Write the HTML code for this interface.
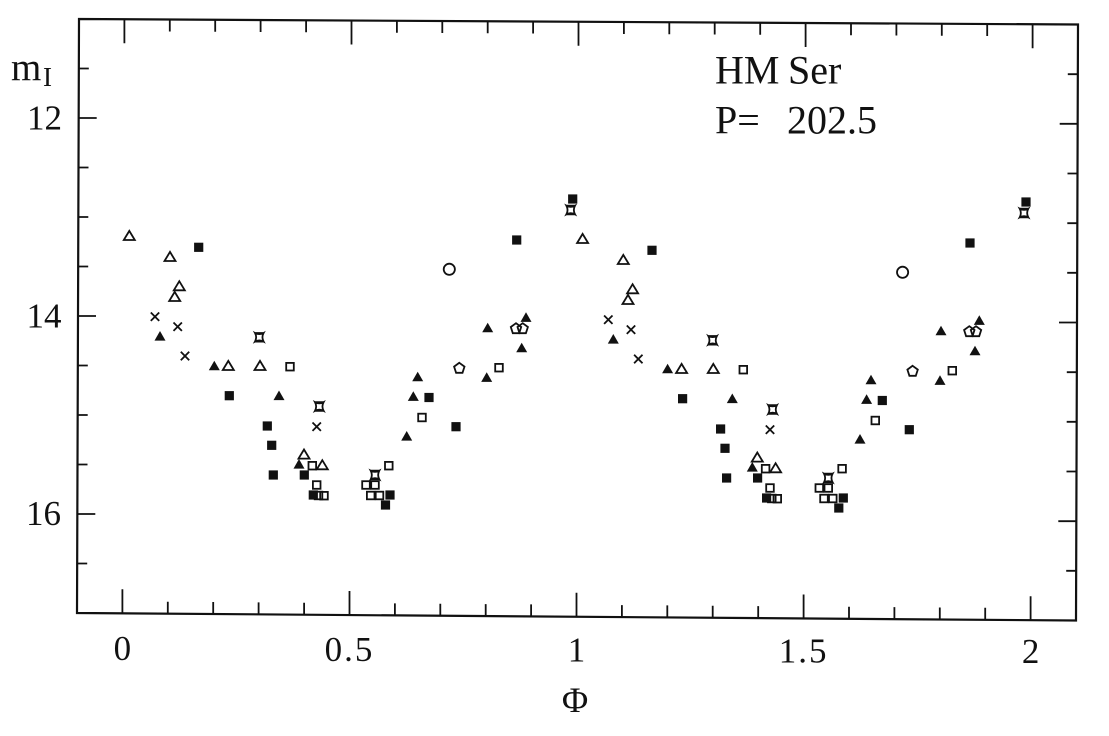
<!DOCTYPE html>
<html><head><meta charset="utf-8">
<style>
html,body{margin:0;padding:0;background:#fff;}
svg{display:block;}
.o{fill:none;stroke:#111;stroke-width:1.8;stroke-linejoin:miter;}
.f{fill:#111;stroke:none;}
text{font-family:"Liberation Serif",serif;fill:#111;}
</style></head>
<body>
<svg width="1109" height="736" viewBox="0 0 1109 736" xmlns="http://www.w3.org/2000/svg">
<rect width="1109" height="736" fill="#fff"/>
<!-- frame -->
<path d="M79,19 L1078,24.5 L1076,620.5 L77,613 Z" fill="none" stroke="#111" stroke-width="2.2"/>
<!-- ticks -->
<path fill="none" stroke="#111" stroke-width="1.8" d="
M122.4,613.3v-24 M167.8,613.7v-12 M213.2,614v-12 M258.6,614.4v-12 M304.1,614.7v-12 M349.5,615v-24 M394.9,615.4v-12 M440.3,615.7v-12 M485.7,616.1v-12 M531.1,616.4v-12 M576.5,616.8v-24 M621.9,617.1v-12 M667.3,617.4v-12 M712.7,617.8v-12 M758.2,618.1v-12 M803.6,618.5v-24 M849,618.8v-12 M894.4,619.1v-12 M939.8,619.5v-12 M985.2,619.8v-12 M1030.6,620.2v-24
M124.4,19.3v24 M169.8,19.5v12 M215.2,19.8v12 M260.6,20v12 M306.1,20.3v12 M351.5,20.5v24 M396.9,20.8v12 M442.3,21v12 M487.7,21.3v12 M533.1,21.5v12 M578.5,21.8v24 M623.9,22v12 M669.3,22.3v12 M714.7,22.5v12 M760.2,22.8v12 M805.6,23v24 M851,23.3v12 M896.4,23.5v12 M941.8,23.8v12 M987.2,24v12 M1032.6,24.3v24
M78.8,68.5h10 M78.7,118h18 M78.5,167.5h10 M78.3,217h10 M78.2,266.5h10 M78,316h18 M77.8,365.5h10 M77.7,415h10 M77.5,464.5h10 M77.3,514h18 M77.2,563.5h10
M1077.8,74.2h-10 M1077.7,123.8h-18 M1077.5,173.5h-10 M1077.3,223.2h-10 M1077.2,272.8h-10 M1077,322.5h-18 M1076.8,372.2h-10 M1076.7,421.8h-10 M1076.5,471.5h-10 M1076.3,521.2h-18 M1076.2,570.8h-10"/>

<!-- y labels -->
<text x="62" y="129.5" font-size="35" text-anchor="end">12</text>
<text x="61.5" y="327.5" font-size="35" text-anchor="end">14</text>
<text x="61" y="525" font-size="35" text-anchor="end">16</text>
<text x="11" y="80" font-size="39">m</text>
<text x="43" y="86" font-size="27">I</text>

<!-- x labels -->
<text x="122.4" y="660" font-size="35" text-anchor="middle">0</text>
<text x="349.5" y="661" font-size="35" text-anchor="middle" letter-spacing="2">0.5</text>
<text x="576.5" y="661.5" font-size="35" text-anchor="middle">1</text>
<text x="803.6" y="662.5" font-size="35" text-anchor="middle" letter-spacing="2">1.5</text>
<text x="1030.6" y="663" font-size="35" text-anchor="middle">2</text>
<text x="575" y="712" font-size="36" text-anchor="middle">Φ</text>

<!-- annotation -->
<text x="715" y="83.5" font-size="40">HM</text>
<text x="788" y="83.5" font-size="40">Ser</text>
<text x="715" y="133.3" font-size="40">P=</text>
<text x="787" y="133.3" font-size="40">202.5</text>

<!-- data: first copy -->
<g>
<!-- open triangles -->
<path class="o" transform="translate(129.3,235.7)" d="M-5.5,4.3H5.5L0,-4.8Z"/>
<path class="o" transform="translate(170,256.7)" d="M-5.5,4.3H5.5L0,-4.8Z"/>
<path class="o" transform="translate(179.3,286)" d="M-5.5,4.3H5.5L0,-4.8Z"/>
<path class="o" transform="translate(174.7,296.7)" d="M-5.5,4.3H5.5L0,-4.8Z"/>
<path class="o" transform="translate(228.3,365.7)" d="M-5.5,4.3H5.5L0,-4.8Z"/>
<path class="o" transform="translate(260,365.7)" d="M-5.5,4.3H5.5L0,-4.8Z"/>
<path class="o" transform="translate(304,454.3)" d="M-5.5,4.3H5.5L0,-4.8Z"/>
<path class="o" transform="translate(322.3,465)" d="M-5.5,4.3H5.5L0,-4.8Z"/>
<!-- open squares -->
<rect class="o" transform="translate(290,366.7)" x="-3.8" y="-3.8" width="7.6" height="7.6"/>
<rect class="o" transform="translate(312.3,465.7)" x="-3.8" y="-3.8" width="7.6" height="7.6"/>
<rect class="o" transform="translate(316.7,485)" x="-3.8" y="-3.8" width="7.6" height="7.6"/>
<rect class="o" transform="translate(318.5,495.5)" x="-3.8" y="-3.8" width="7.6" height="7.6"/>
<rect class="o" transform="translate(324,495.7)" x="-3.8" y="-3.8" width="7.6" height="7.6"/>
<rect class="o" transform="translate(366,485)" x="-3.8" y="-3.8" width="7.6" height="7.6"/>
<rect class="o" transform="translate(375,485)" x="-3.8" y="-3.8" width="7.6" height="7.6"/>
<rect class="o" transform="translate(370.7,495.5)" x="-3.8" y="-3.8" width="7.6" height="7.6"/>
<rect class="o" transform="translate(379.5,495.5)" x="-3.8" y="-3.8" width="7.6" height="7.6"/>
<rect class="o" transform="translate(388.8,465.7)" x="-3.8" y="-3.8" width="7.6" height="7.6"/>
<rect class="o" transform="translate(422,417.5)" x="-3.8" y="-3.8" width="7.6" height="7.6"/>
<rect class="o" transform="translate(499,367.7)" x="-3.8" y="-3.8" width="7.6" height="7.6"/>
<!-- filled triangles -->
<path class="f" transform="translate(160,336)" d="M-5.5,4.6H5.5L0,-5Z"/>
<path class="f" transform="translate(214.3,365.7)" d="M-5.5,4.6H5.5L0,-5Z"/>
<path class="f" transform="translate(279,395.5)" d="M-5.5,4.6H5.5L0,-5Z"/>
<path class="f" transform="translate(299,464)" d="M-5.5,4.6H5.5L0,-5Z"/>
<path class="f" transform="translate(406.7,436)" d="M-5.5,4.6H5.5L0,-5Z"/>
<path class="f" transform="translate(413.3,396.3)" d="M-5.5,4.6H5.5L0,-5Z"/>
<path class="f" transform="translate(417.7,376.7)" d="M-5.5,4.6H5.5L0,-5Z"/>
<path class="f" transform="translate(486.7,377.3)" d="M-5.5,4.6H5.5L0,-5Z"/>
<path class="f" transform="translate(487.7,327.7)" d="M-5.5,4.6H5.5L0,-5Z"/>
<path class="f" transform="translate(526,317.3)" d="M-5.5,4.6H5.5L0,-5Z"/>
<path class="f" transform="translate(521.7,347.7)" d="M-5.5,4.6H5.5L0,-5Z"/>
<!-- filled squares -->
<rect class="f" transform="translate(198.7,247.3)" x="-4.6" y="-4.6" width="9.2" height="9.2"/>
<rect class="f" transform="translate(229.3,395.7)" x="-4.6" y="-4.6" width="9.2" height="9.2"/>
<rect class="f" transform="translate(267.3,426)" x="-4.6" y="-4.6" width="9.2" height="9.2"/>
<rect class="f" transform="translate(271.7,445.3)" x="-4.6" y="-4.6" width="9.2" height="9.2"/>
<rect class="f" transform="translate(273.3,475)" x="-4.6" y="-4.6" width="9.2" height="9.2"/>
<rect class="f" transform="translate(304.3,475)" x="-4.6" y="-4.6" width="9.2" height="9.2"/>
<rect class="f" transform="translate(313.3,495)" x="-4.6" y="-4.6" width="9.2" height="9.2"/>
<rect class="f" transform="translate(390,495)" x="-4.6" y="-4.6" width="9.2" height="9.2"/>
<rect class="f" transform="translate(385.5,505)" x="-4.6" y="-4.6" width="9.2" height="9.2"/>
<rect class="f" transform="translate(429,397.5)" x="-4.6" y="-4.6" width="9.2" height="9.2"/>
<rect class="f" transform="translate(456,426.7)" x="-4.6" y="-4.6" width="9.2" height="9.2"/>
<rect class="f" transform="translate(516.7,240)" x="-4.6" y="-4.6" width="9.2" height="9.2"/>
<rect class="f" transform="translate(572.7,199)" x="-4.6" y="-4.6" width="9.2" height="9.2"/>
<!-- crosses -->
<path class="o" transform="translate(155,316.7)" d="M-4.2,-4.2L4.2,4.2M-4.2,4.2L4.2,-4.2"/>
<path class="o" transform="translate(177.7,326.7)" d="M-4.2,-4.2L4.2,4.2M-4.2,4.2L4.2,-4.2"/>
<path class="o" transform="translate(185,356)" d="M-4.2,-4.2L4.2,4.2M-4.2,4.2L4.2,-4.2"/>
<path class="o" transform="translate(316.7,426.7)" d="M-4.2,-4.2L4.2,4.2M-4.2,4.2L4.2,-4.2"/>
<!-- stars -->
<path class="o" transform="translate(259.3,337.3)" d="M-4.3,-4.3Q0,-2 4.3,-4.3Q2,0 4.3,4.3Q0,2 -4.3,4.3Q-2,0 -4.3,-4.3ZM-4.3,-4.3H4.3M-4.3,4.3H4.3"/>
<path class="o" transform="translate(319.3,406.5)" d="M-4.3,-4.3Q0,-2 4.3,-4.3Q2,0 4.3,4.3Q0,2 -4.3,4.3Q-2,0 -4.3,-4.3ZM-4.3,-4.3H4.3M-4.3,4.3H4.3"/>
<path class="o" transform="translate(375,475)" d="M-4.3,-4.3Q0,-2 4.3,-4.3Q2,0 4.3,4.3Q0,2 -4.3,4.3Q-2,0 -4.3,-4.3ZM-4.3,-4.3H4.3M-4.3,4.3H4.3"/>
<path class="o" transform="translate(570.7,210)" d="M-4.3,-4.3Q0,-2 4.3,-4.3Q2,0 4.3,4.3Q0,2 -4.3,4.3Q-2,0 -4.3,-4.3ZM-4.3,-4.3H4.3M-4.3,4.3H4.3"/>
<!-- circle -->
<circle class="o" cx="449.3" cy="269.3" r="5.6"/>
<!-- pentagons -->
<path class="o" transform="translate(459.3,368.3)" d="M0,-5.5L5.2,-1.7L3.2,4.5H-3.2L-5.2,-1.7Z"/>
<path class="o" transform="translate(516,328.7)" d="M0,-5.5L5.2,-1.7L3.2,4.5H-3.2L-5.2,-1.7Z"/>
<path class="o" transform="translate(522.7,328.7)" d="M0,-5.5L5.2,-1.7L3.2,4.5H-3.2L-5.2,-1.7Z"/>
</g>

<!-- data: second copy (phase + 1) -->
<g transform="translate(453.3,3)">
<path class="o" transform="translate(129.3,235.7)" d="M-5.5,4.3H5.5L0,-4.8Z"/>
<path class="o" transform="translate(170,256.7)" d="M-5.5,4.3H5.5L0,-4.8Z"/>
<path class="o" transform="translate(179.3,286)" d="M-5.5,4.3H5.5L0,-4.8Z"/>
<path class="o" transform="translate(174.7,296.7)" d="M-5.5,4.3H5.5L0,-4.8Z"/>
<path class="o" transform="translate(228.3,365.7)" d="M-5.5,4.3H5.5L0,-4.8Z"/>
<path class="o" transform="translate(260,365.7)" d="M-5.5,4.3H5.5L0,-4.8Z"/>
<path class="o" transform="translate(304,454.3)" d="M-5.5,4.3H5.5L0,-4.8Z"/>
<path class="o" transform="translate(322.3,465)" d="M-5.5,4.3H5.5L0,-4.8Z"/>
<rect class="o" transform="translate(290,366.7)" x="-3.8" y="-3.8" width="7.6" height="7.6"/>
<rect class="o" transform="translate(312.3,465.7)" x="-3.8" y="-3.8" width="7.6" height="7.6"/>
<rect class="o" transform="translate(316.7,485)" x="-3.8" y="-3.8" width="7.6" height="7.6"/>
<rect class="o" transform="translate(318.5,495.5)" x="-3.8" y="-3.8" width="7.6" height="7.6"/>
<rect class="o" transform="translate(324,495.7)" x="-3.8" y="-3.8" width="7.6" height="7.6"/>
<rect class="o" transform="translate(366,485)" x="-3.8" y="-3.8" width="7.6" height="7.6"/>
<rect class="o" transform="translate(375,485)" x="-3.8" y="-3.8" width="7.6" height="7.6"/>
<rect class="o" transform="translate(370.7,495.5)" x="-3.8" y="-3.8" width="7.6" height="7.6"/>
<rect class="o" transform="translate(379.5,495.5)" x="-3.8" y="-3.8" width="7.6" height="7.6"/>
<rect class="o" transform="translate(388.8,465.7)" x="-3.8" y="-3.8" width="7.6" height="7.6"/>
<rect class="o" transform="translate(422,417.5)" x="-3.8" y="-3.8" width="7.6" height="7.6"/>
<rect class="o" transform="translate(499,367.7)" x="-3.8" y="-3.8" width="7.6" height="7.6"/>
<path class="f" transform="translate(160,336)" d="M-5.5,4.6H5.5L0,-5Z"/>
<path class="f" transform="translate(214.3,365.7)" d="M-5.5,4.6H5.5L0,-5Z"/>
<path class="f" transform="translate(279,395.5)" d="M-5.5,4.6H5.5L0,-5Z"/>
<path class="f" transform="translate(299,464)" d="M-5.5,4.6H5.5L0,-5Z"/>
<path class="f" transform="translate(406.7,436)" d="M-5.5,4.6H5.5L0,-5Z"/>
<path class="f" transform="translate(413.3,396.3)" d="M-5.5,4.6H5.5L0,-5Z"/>
<path class="f" transform="translate(417.7,376.7)" d="M-5.5,4.6H5.5L0,-5Z"/>
<path class="f" transform="translate(486.7,377.3)" d="M-5.5,4.6H5.5L0,-5Z"/>
<path class="f" transform="translate(487.7,327.7)" d="M-5.5,4.6H5.5L0,-5Z"/>
<path class="f" transform="translate(526,317.3)" d="M-5.5,4.6H5.5L0,-5Z"/>
<path class="f" transform="translate(521.7,347.7)" d="M-5.5,4.6H5.5L0,-5Z"/>
<rect class="f" transform="translate(198.7,247.3)" x="-4.6" y="-4.6" width="9.2" height="9.2"/>
<rect class="f" transform="translate(229.3,395.7)" x="-4.6" y="-4.6" width="9.2" height="9.2"/>
<rect class="f" transform="translate(267.3,426)" x="-4.6" y="-4.6" width="9.2" height="9.2"/>
<rect class="f" transform="translate(271.7,445.3)" x="-4.6" y="-4.6" width="9.2" height="9.2"/>
<rect class="f" transform="translate(273.3,475)" x="-4.6" y="-4.6" width="9.2" height="9.2"/>
<rect class="f" transform="translate(304.3,475)" x="-4.6" y="-4.6" width="9.2" height="9.2"/>
<rect class="f" transform="translate(313.3,495)" x="-4.6" y="-4.6" width="9.2" height="9.2"/>
<rect class="f" transform="translate(390,495)" x="-4.6" y="-4.6" width="9.2" height="9.2"/>
<rect class="f" transform="translate(385.5,505)" x="-4.6" y="-4.6" width="9.2" height="9.2"/>
<rect class="f" transform="translate(429,397.5)" x="-4.6" y="-4.6" width="9.2" height="9.2"/>
<rect class="f" transform="translate(456,426.7)" x="-4.6" y="-4.6" width="9.2" height="9.2"/>
<rect class="f" transform="translate(516.7,240)" x="-4.6" y="-4.6" width="9.2" height="9.2"/>
<rect class="f" transform="translate(572.7,199)" x="-4.6" y="-4.6" width="9.2" height="9.2"/>
<path class="o" transform="translate(155,316.7)" d="M-4.2,-4.2L4.2,4.2M-4.2,4.2L4.2,-4.2"/>
<path class="o" transform="translate(177.7,326.7)" d="M-4.2,-4.2L4.2,4.2M-4.2,4.2L4.2,-4.2"/>
<path class="o" transform="translate(185,356)" d="M-4.2,-4.2L4.2,4.2M-4.2,4.2L4.2,-4.2"/>
<path class="o" transform="translate(316.7,426.7)" d="M-4.2,-4.2L4.2,4.2M-4.2,4.2L4.2,-4.2"/>
<path class="o" transform="translate(259.3,337.3)" d="M-4.3,-4.3Q0,-2 4.3,-4.3Q2,0 4.3,4.3Q0,2 -4.3,4.3Q-2,0 -4.3,-4.3ZM-4.3,-4.3H4.3M-4.3,4.3H4.3"/>
<path class="o" transform="translate(319.3,406.5)" d="M-4.3,-4.3Q0,-2 4.3,-4.3Q2,0 4.3,4.3Q0,2 -4.3,4.3Q-2,0 -4.3,-4.3ZM-4.3,-4.3H4.3M-4.3,4.3H4.3"/>
<path class="o" transform="translate(375,475)" d="M-4.3,-4.3Q0,-2 4.3,-4.3Q2,0 4.3,4.3Q0,2 -4.3,4.3Q-2,0 -4.3,-4.3ZM-4.3,-4.3H4.3M-4.3,4.3H4.3"/>
<path class="o" transform="translate(570.7,210)" d="M-4.3,-4.3Q0,-2 4.3,-4.3Q2,0 4.3,4.3Q0,2 -4.3,4.3Q-2,0 -4.3,-4.3ZM-4.3,-4.3H4.3M-4.3,4.3H4.3"/>
<circle class="o" cx="449.3" cy="269.3" r="5.6"/>
<path class="o" transform="translate(459.3,368.3)" d="M0,-5.5L5.2,-1.7L3.2,4.5H-3.2L-5.2,-1.7Z"/>
<path class="o" transform="translate(516,328.7)" d="M0,-5.5L5.2,-1.7L3.2,4.5H-3.2L-5.2,-1.7Z"/>
<path class="o" transform="translate(522.7,328.7)" d="M0,-5.5L5.2,-1.7L3.2,4.5H-3.2L-5.2,-1.7Z"/>
</g>
</svg>
</body></html>
